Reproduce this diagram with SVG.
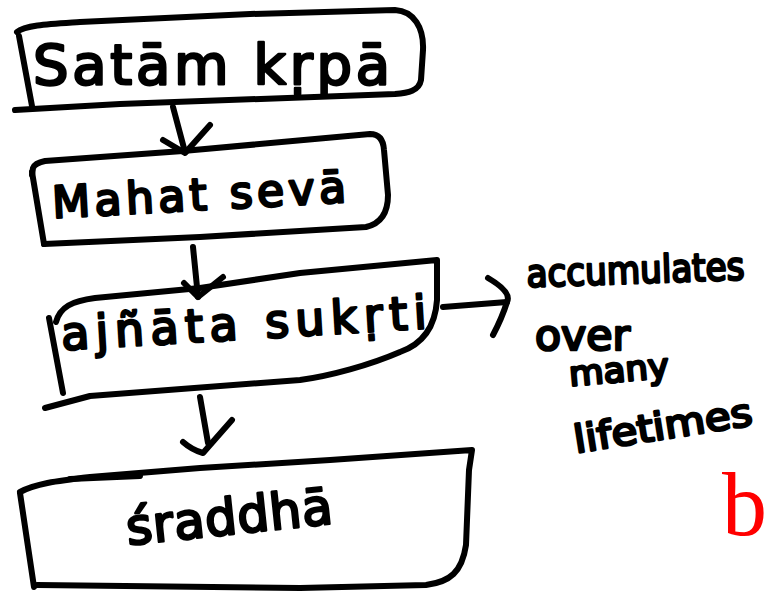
<svg xmlns="http://www.w3.org/2000/svg" width="768" height="598" viewBox="0 0 768 598">
  <style>
    .ink{fill:none;stroke:#000;stroke-width:6;stroke-linecap:round;stroke-linejoin:round}
    .hand{font-family:"DejaVu Sans","Noto Sans",sans-serif;font-weight:400;fill:#000;stroke:#000;stroke-width:2.6;stroke-linejoin:round}
    .note{font-family:"Liberation Serif","DejaVu Serif",serif;fill:#ff0000}
  </style>
  <rect width="768" height="598" fill="#fff"/>

  <!-- connectors -->
  <g id="connectors" class="ink">
    <path d="M173,107 L185,152"/>
    <path d="M163,140 L185,153 L210,125"/>
    <path d="M193,247 L198,297"/>
    <path d="M184,283 L198,297 L223,277"/>
    <path d="M200,397 L208,443"/>
    <path d="M183,442 Q192,450 203,453 L232,420"/>
    <path d="M443,307 L507,302"/>
    <path d="M488,278 Q512,292 507,302 Q502,318 493,335"/>
  </g>

  <!-- Satām kṛpā -->
  <g id="node-satam-krpa">
    <path class="ink" d="M17,32 C25,25 50,24 80,22 L250,14 L395,10 C414,11 424,28 423,50 L421,80 C419,91 408,93 395,94 L120,104 L15,110"/>
    <path class="ink" d="M19,36 L32,106"/>
    <text class="hand" x="33" y="84" font-size="56" textLength="357" lengthAdjust="spacing">Satām kṛpā</text>
  </g>

  <!-- Mahat sevā -->
  <g id="node-mahat-seva">
    <path class="ink" d="M32,175 L33,168 Q35,163 45,161 L183,151 L370,134 Q383,134 384,150 L388,195 Q388,222 366,227 L200,237 L44,244"/>
    <path class="ink" d="M32,172 L44,244"/>
    <text class="hand" x="53" y="218" font-size="44" textLength="294" lengthAdjust="spacing" transform="rotate(-3.1 53 218)">Mahat sevā</text>
  </g>

  <!-- ajñāta sukṛti -->
  <g id="node-ajnata-sukrti">
    <path class="ink" d="M56,322 C60,307 72,301 95,298 L200,288 L300,273 L437,260 L437,300 C435,330 420,345 400,352 C370,365 330,376 300,380 L90,396 L45,408"/>
    <path class="ink" d="M49,318 L63,393"/>
    <text class="hand" x="62" y="350" font-size="46" textLength="366" lengthAdjust="spacing" transform="rotate(-3.4 62 350)">ajñāta sukṛti</text>
  </g>

  <!-- side note -->
  <g id="note-lifetimes">
    <text class="hand" x="527" y="287" font-size="38" textLength="218" lengthAdjust="spacingAndGlyphs" transform="rotate(-2 527 287)">accumulates</text>
    <text class="hand" x="535" y="350" font-size="42" textLength="95" lengthAdjust="spacingAndGlyphs">over</text>
    <text class="hand" x="570" y="386" font-size="34" textLength="100" lengthAdjust="spacingAndGlyphs" transform="rotate(-5 570 386)">many</text>
    <text class="hand" x="576" y="453" font-size="38" textLength="180" lengthAdjust="spacingAndGlyphs" transform="rotate(-9 576 453)">lifetimes</text>
  </g>

  <!-- śraddhā -->
  <g id="node-sraddha">
    <path class="ink" d="M20,492 C35,484 55,481 90,477 L200,468 L330,460 L472,450 L469,470 L466,545 C462,572 450,582 426,585 L300,588 L37,585"/>
    <path class="ink" d="M70,479 L140,476" stroke-width="9"/>
    <path class="ink" d="M20,493 L34,587"/>
    <text class="hand" x="128" y="545" font-size="50" textLength="207" lengthAdjust="spacing" transform="rotate(-6 128 545)">śraddhā</text>
  </g>

  <text class="note" x="722" y="535" font-size="90">b</text>
</svg>
